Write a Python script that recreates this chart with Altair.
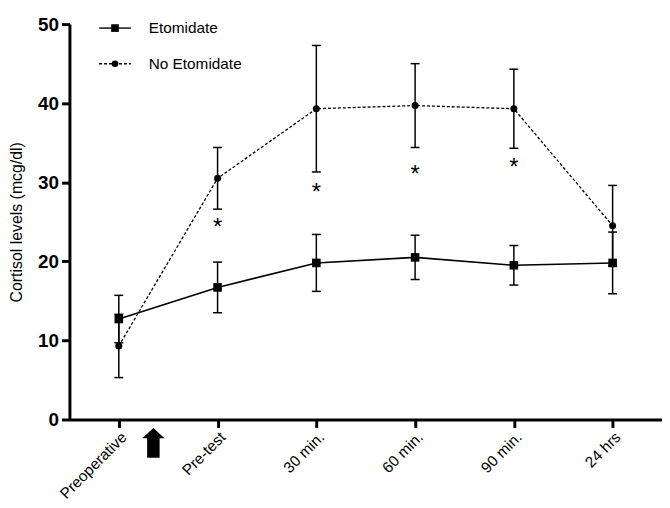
import json
import altair as alt
import pandas as pd

# ---- data ----
labels = ["Preoperative", "Pre-test", "30 min.", "60 min.", "90 min.", "24 hrs"]
xpos = [0, 1, 2, 3, 4, 5]
etom_mean = [12.7, 16.7, 19.8, 20.5, 19.5, 19.8]
etom_err = [3.0, 3.2, 3.6, 2.8, 2.5, 3.9]
noet_mean = [9.3, 30.5, 39.3, 39.7, 39.3, 24.5]
noet_err = [4.0, 3.9, 8.0, 5.3, 5.0, 5.1]
star_x = [1, 2, 3, 4]
star_y = [24.9, 29.4, 31.7, 32.5]
arrow_x = [0.35]
y_ticks = [0, 10, 20, 30, 40, 50]
series_names = ["Etomidate", "No Etomidate"]

FONT = "Liberation Sans"

def frame(means, errs):
    return pd.DataFrame({
        "x": xpos,
        "mean": means,
        "lo": [m - e for m, e in zip(means, errs)],
        "hi": [m + e for m, e in zip(means, errs)],
    })

df_e = frame(etom_mean, etom_err)
df_n = frame(noet_mean, noet_err)
df_star = pd.DataFrame({"x": star_x, "y": star_y})
df_arrow = pd.DataFrame({"x": arrow_x})

label_expr = json.dumps(labels) + "[datum.value]"

X = alt.X("x:Q",
          scale=alt.Scale(domain=[-0.5, 5.5], nice=False, zero=False),
          axis=alt.Axis(values=xpos, labelExpr=label_expr, title=None,
                        labelAngle=-45, labelFontSize=15.5, labelPadding=2,
                        labelFont=FONT, labelColor="black"))
Yscale = alt.Scale(domain=[0, 50], nice=False, zero=True)

def Y(field):
    return alt.Y(field, scale=Yscale,
                 axis=alt.Axis(values=y_ticks, title="Cortisol levels (mcg/dl)",
                               labelFontSize=19, labelFontWeight="bold",
                               labelFont=FONT, labelPadding=3, labelColor="black",
                               titleFont=FONT, titleFontSize=16, titleFontWeight="normal",
                               titleColor="black", titleAngle=-90, titleX=-53,
                               titleY=199.5, titleAlign="center", titleBaseline="middle"))

def series(df, dash, shape, size, lw):
    b = alt.Chart(df)
    rule = b.mark_rule(color="black", strokeWidth=1.5).encode(x=X, y=Y("lo:Q"), y2="hi:Q")
    cap_lo = b.mark_tick(orient="horizontal", size=9, thickness=1.5, color="black", opacity=1).encode(x=X, y=Y("lo:Q"))
    cap_hi = b.mark_tick(orient="horizontal", size=9, thickness=1.5, color="black", opacity=1).encode(x=X, y=Y("hi:Q"))
    line_kw = dict(color="black", strokeWidth=lw)
    if dash:
        line_kw["strokeDash"] = dash
    line = b.mark_line(**line_kw).encode(x=X, y=Y("mean:Q"))
    pts = b.mark_point(filled=True, shape=shape, size=size, color="black", opacity=1).encode(x=X, y=Y("mean:Q"))
    return [rule, cap_lo, cap_hi, line, pts]

layers = []
layers += series(df_e, None, "square", 75, 1.6)
layers += series(df_n, [3, 2], "circle", 50, 1.3)

stars = alt.Chart(df_star).mark_text(text="*", fontSize=24, font=FONT, color="black",
                                     baseline="middle", dy=6).encode(x=X, y=Y("y:Q"))
layers.append(stars)

arrow_path = "M0,-1 L0.75,-0.3 L0.42,-0.3 L0.42,1 L-0.42,1 L-0.42,-0.3 L-0.75,-0.3 Z"
arrow = alt.Chart(df_arrow).mark_point(shape=arrow_path, filled=True, size=900,
                                       color="black", opacity=1).encode(
    x=X, y=alt.value(422.5))
layers.append(arrow)

# ---- legend (top-left, drawn manually) ----
one = pd.DataFrame({"k": [0]})
leg_y = [4, 40]
leg_dash = [None, [3, 2]]
leg_shape = ["square", "circle"]
leg_size = [60, 45]
for name, ly, dsh, shp, sz in zip(series_names, leg_y, leg_dash, leg_shape, leg_size):
    kw = dict(color="black", strokeWidth=1.4)
    if dsh:
        kw["strokeDash"] = dsh
    layers.append(alt.Chart(one).mark_rule(**kw).encode(
        x=alt.value(30), x2=alt.value(62), y=alt.value(ly)))
    layers.append(alt.Chart(one).mark_point(filled=True, shape=shp, size=sz, color="black", opacity=1).encode(
        x=alt.value(46), y=alt.value(ly)))
    layers.append(alt.Chart(one).mark_text(align="left", baseline="middle", fontSize=15.5,
                                           font=FONT, color="black").encode(
        x=alt.value(80), y=alt.value(ly), text=alt.value(name)))

chart = alt.layer(*layers).properties(
    width=598, height=399,
    padding={"left": 62, "top": 14, "right": 0, "bottom": 80},
    autosize="none",
).configure_view(stroke=None).configure_axis(
    grid=False, domainColor="black", domainWidth=3, tickColor="black",
    tickWidth=3, tickSize=8,
)

chart.save("out.html", embed_options={"renderer": "svg", "actions": False})
